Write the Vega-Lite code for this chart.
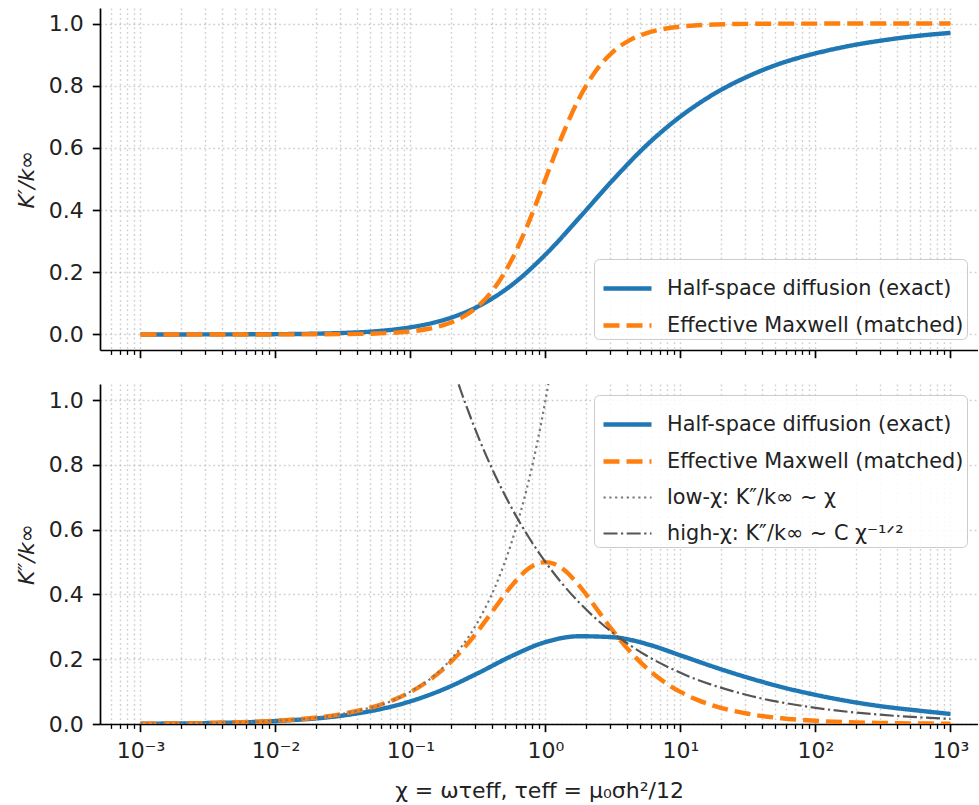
{
  "$schema": "https://vega.github.io/schema/vega-lite/v6.json",
  "background": "white",
  "padding": {"left": 15, "top": 8, "right": 0, "bottom": 0},
  "config": {
    "font": "DejaVu Sans",
    "view": {"stroke": null},
    "axis": {
      "labelFont": "DejaVu Sans", "labelFontSize": 22, "labelColor": "#222222",
      "titleFont": "DejaVu Sans", "titleFontSize": 22, "titleFontWeight": "normal", "titleColor": "#222222",
      "domainColor": "#000000", "domainWidth": 1.7, "tickColor": "#000000", "tickWidth": 1.7,
      "gridColor": "#b0b0b0", "gridOpacity": 0.6, "gridDash": [1.8, 2.9], "gridWidth": 1.4,
      "labelFlush": false, "labelOverlap": false, "labelBound": false
    },
    "legend": {
      "labelFont": "DejaVu Sans", "labelFontSize": 20.8, "labelColor": "#222222",
      "symbolType": "stroke", "symbolSize": 2304, "symbolStrokeWidth": 4.4, "labelOffset": 13, "rowPadding": -1,
      "padding": 3, "symbolOffset": 4, "fillColor": "rgba(255,255,255,0.85)", "strokeColor": "#cccccc",
      "cornerRadius": 5, "offset": 11, "labelLimit": 500
    }
  },
  "datasets": {
    "top": [
      {"s": "exact", "chi": 0.001, "v": 0.00003},
      {"s": "exact", "chi": 0.0031623, "v": 0.00016},
      {"s": "exact", "chi": 0.01, "v": 0.0009},
      {"s": "exact", "chi": 0.031623, "v": 0.0048},
      {"s": "exact", "chi": 0.056234, "v": 0.0105},
      {"s": "exact", "chi": 0.1, "v": 0.023},
      {"s": "exact", "chi": 0.17783, "v": 0.047},
      {"s": "exact", "chi": 0.31623, "v": 0.09},
      {"s": "exact", "chi": 0.56234, "v": 0.159},
      {"s": "exact", "chi": 1, "v": 0.257},
      {"s": "exact", "chi": 1.7783, "v": 0.375},
      {"s": "exact", "chi": 3.1623, "v": 0.497},
      {"s": "exact", "chi": 5.6234, "v": 0.609},
      {"s": "exact", "chi": 10, "v": 0.701},
      {"s": "exact", "chi": 17.783, "v": 0.774},
      {"s": "exact", "chi": 31.623, "v": 0.83},
      {"s": "exact", "chi": 56.234, "v": 0.873},
      {"s": "exact", "chi": 100, "v": 0.904},
      {"s": "exact", "chi": 177.83, "v": 0.928},
      {"s": "exact", "chi": 316.23, "v": 0.946},
      {"s": "exact", "chi": 562.34, "v": 0.96},
      {"s": "exact", "chi": 1000, "v": 0.97},
      {"s": "maxwell", "chi": 0.001, "v": 0.000001},
      {"s": "maxwell", "chi": 0.0031623, "v": 0.00001},
      {"s": "maxwell", "chi": 0.01, "v": 0.0001},
      {"s": "maxwell", "chi": 0.031623, "v": 0.001},
      {"s": "maxwell", "chi": 0.056234, "v": 0.00315},
      {"s": "maxwell", "chi": 0.074989, "v": 0.00559},
      {"s": "maxwell", "chi": 0.1, "v": 0.0099},
      {"s": "maxwell", "chi": 0.13335, "v": 0.01747},
      {"s": "maxwell", "chi": 0.17783, "v": 0.03065},
      {"s": "maxwell", "chi": 0.23714, "v": 0.05324},
      {"s": "maxwell", "chi": 0.31623, "v": 0.09091},
      {"s": "maxwell", "chi": 0.4217, "v": 0.15098},
      {"s": "maxwell", "chi": 0.56234, "v": 0.24025},
      {"s": "maxwell", "chi": 0.74989, "v": 0.35993},
      {"s": "maxwell", "chi": 0.86596, "v": 0.42853},
      {"s": "maxwell", "chi": 1, "v": 0.5},
      {"s": "maxwell", "chi": 1.15478, "v": 0.57147},
      {"s": "maxwell", "chi": 1.3335, "v": 0.64008},
      {"s": "maxwell", "chi": 1.7783, "v": 0.75975},
      {"s": "maxwell", "chi": 2.3714, "v": 0.84902},
      {"s": "maxwell", "chi": 3.1623, "v": 0.90909},
      {"s": "maxwell", "chi": 4.217, "v": 0.94676},
      {"s": "maxwell", "chi": 5.6234, "v": 0.96935},
      {"s": "maxwell", "chi": 7.4989, "v": 0.98253},
      {"s": "maxwell", "chi": 10, "v": 0.9901},
      {"s": "maxwell", "chi": 13.335, "v": 0.99441},
      {"s": "maxwell", "chi": 17.783, "v": 0.99685},
      {"s": "maxwell", "chi": 31.623, "v": 0.999},
      {"s": "maxwell", "chi": 56.234, "v": 0.99968},
      {"s": "maxwell", "chi": 100, "v": 0.9999},
      {"s": "maxwell", "chi": 316.23, "v": 0.99999},
      {"s": "maxwell", "chi": 1000, "v": 1.0}
    ],
    "bottom": [
      {"s": "exact", "chi": 0.001, "v": 0.00097},
      {"s": "exact", "chi": 0.0031623, "v": 0.00299},
      {"s": "exact", "chi": 0.01, "v": 0.00905},
      {"s": "exact", "chi": 0.031623, "v": 0.0263},
      {"s": "exact", "chi": 0.056234, "v": 0.0435},
      {"s": "exact", "chi": 0.1, "v": 0.0701},
      {"s": "exact", "chi": 0.17783, "v": 0.108},
      {"s": "exact", "chi": 0.31623, "v": 0.157},
      {"s": "exact", "chi": 0.56234, "v": 0.21},
      {"s": "exact", "chi": 1, "v": 0.253},
      {"s": "exact", "chi": 1.7783, "v": 0.271},
      {"s": "exact", "chi": 3.1623, "v": 0.268},
      {"s": "exact", "chi": 5.6234, "v": 0.247},
      {"s": "exact", "chi": 10, "v": 0.212},
      {"s": "exact", "chi": 17.783, "v": 0.176},
      {"s": "exact", "chi": 31.623, "v": 0.143},
      {"s": "exact", "chi": 56.234, "v": 0.114},
      {"s": "exact", "chi": 100, "v": 0.09},
      {"s": "exact", "chi": 177.83, "v": 0.07},
      {"s": "exact", "chi": 316.23, "v": 0.054},
      {"s": "exact", "chi": 562.34, "v": 0.042},
      {"s": "exact", "chi": 1000, "v": 0.031},
      {"s": "maxwell", "chi": 0.001, "v": 0.001},
      {"s": "maxwell", "chi": 0.0031623, "v": 0.0031623},
      {"s": "maxwell", "chi": 0.01, "v": 0.009999},
      {"s": "maxwell", "chi": 0.031623, "v": 0.03159},
      {"s": "maxwell", "chi": 0.056234, "v": 0.05605},
      {"s": "maxwell", "chi": 0.074989, "v": 0.07457},
      {"s": "maxwell", "chi": 0.1, "v": 0.09901},
      {"s": "maxwell", "chi": 0.13335, "v": 0.13102},
      {"s": "maxwell", "chi": 0.17783, "v": 0.17238},
      {"s": "maxwell", "chi": 0.23714, "v": 0.22451},
      {"s": "maxwell", "chi": 0.31623, "v": 0.28748},
      {"s": "maxwell", "chi": 0.4217, "v": 0.35803},
      {"s": "maxwell", "chi": 0.56234, "v": 0.42724},
      {"s": "maxwell", "chi": 0.74989, "v": 0.47998},
      {"s": "maxwell", "chi": 0.86596, "v": 0.49486},
      {"s": "maxwell", "chi": 1, "v": 0.5},
      {"s": "maxwell", "chi": 1.15478, "v": 0.49486},
      {"s": "maxwell", "chi": 1.3335, "v": 0.47998},
      {"s": "maxwell", "chi": 1.7783, "v": 0.42724},
      {"s": "maxwell", "chi": 2.3714, "v": 0.35803},
      {"s": "maxwell", "chi": 3.1623, "v": 0.28748},
      {"s": "maxwell", "chi": 4.217, "v": 0.22451},
      {"s": "maxwell", "chi": 5.6234, "v": 0.17238},
      {"s": "maxwell", "chi": 7.4989, "v": 0.13102},
      {"s": "maxwell", "chi": 10, "v": 0.09901},
      {"s": "maxwell", "chi": 13.335, "v": 0.07457},
      {"s": "maxwell", "chi": 17.783, "v": 0.05605},
      {"s": "maxwell", "chi": 31.623, "v": 0.03159},
      {"s": "maxwell", "chi": 56.234, "v": 0.01778},
      {"s": "maxwell", "chi": 100, "v": 0.009999},
      {"s": "maxwell", "chi": 316.23, "v": 0.0031623},
      {"s": "maxwell", "chi": 1000, "v": 0.001},
      {"s": "low", "chi": 0.001, "v": 0.001},
      {"s": "low", "chi": 0.0031623, "v": 0.0031623},
      {"s": "low", "chi": 0.01, "v": 0.01},
      {"s": "low", "chi": 0.031623, "v": 0.031623},
      {"s": "low", "chi": 0.1, "v": 0.1},
      {"s": "low", "chi": 0.17783, "v": 0.17783},
      {"s": "low", "chi": 0.31623, "v": 0.31623},
      {"s": "low", "chi": 0.4217, "v": 0.4217},
      {"s": "low", "chi": 0.56234, "v": 0.56234},
      {"s": "low", "chi": 0.74989, "v": 0.74989},
      {"s": "low", "chi": 0.86596, "v": 0.86596},
      {"s": "low", "chi": 1, "v": 1},
      {"s": "low", "chi": 1.122, "v": 1.122},
      {"s": "low", "chi": 1.2589, "v": 1.2589},
      {"s": "high", "chi": 0.17783, "v": 1.1857},
      {"s": "high", "chi": 0.23714, "v": 1.0268},
      {"s": "high", "chi": 0.31623, "v": 0.8891},
      {"s": "high", "chi": 0.4217, "v": 0.77},
      {"s": "high", "chi": 0.56234, "v": 0.6668},
      {"s": "high", "chi": 0.74989, "v": 0.5774},
      {"s": "high", "chi": 1, "v": 0.5},
      {"s": "high", "chi": 1.3335, "v": 0.433},
      {"s": "high", "chi": 1.7783, "v": 0.375},
      {"s": "high", "chi": 2.3714, "v": 0.3247},
      {"s": "high", "chi": 3.1623, "v": 0.2812},
      {"s": "high", "chi": 4.217, "v": 0.2435},
      {"s": "high", "chi": 5.6234, "v": 0.2108},
      {"s": "high", "chi": 10, "v": 0.1581},
      {"s": "high", "chi": 31.623, "v": 0.0889},
      {"s": "high", "chi": 100, "v": 0.05},
      {"s": "high", "chi": 316.23, "v": 0.0281},
      {"s": "high", "chi": 1000, "v": 0.0158}
    ]
  },
  "spacing": 25,
  "resolve": {"scale": {"y": "independent", "color": "independent", "strokeDash": "independent", "strokeWidth": "independent"}},
  "vconcat": [
    {
      "width": 878,
      "height": 342,
      "layer": [
        {
          "mark": {"type": "rule", "color": "#8c8c8c", "strokeWidth": 1.4},
          "encoding": {"y": {"datum": 1}}
        },
        {
          "data": {"name": "top"},
          "mark": {"type": "line", "clip": true, "interpolate": "monotone"},
          "encoding": {
            "x": {
              "field": "chi", "type": "quantitative",
              "scale": {"type": "log", "domain": [0.00050119, 1600], "nice": false},
              "axis": {
                "title": null, "labels": false, "grid": true,
                "values": [0.0006,0.0007,0.0008,0.0009,0.001,0.002,0.003,0.004,0.005,0.006,0.007,0.008,0.009,0.01,0.02,0.03,0.04,0.05,0.06,0.07,0.08,0.09,0.1,0.2,0.3,0.4,0.5,0.6,0.7,0.8,0.9,1,2,3,4,5,6,7,8,9,10,20,30,40,50,60,70,80,90,100,200,300,400,500,600,700,800,900,1000],
                "tickSize": {"condition": {"test": "abs(log(datum.value)/LN10 - round(log(datum.value)/LN10)) < 0.001", "value": 7.7}, "value": 4.4},
                "tickWidth": {"condition": {"test": "abs(log(datum.value)/LN10 - round(log(datum.value)/LN10)) < 0.001", "value": 1.7}, "value": 1.3}
              }
            },
            "y": {
              "field": "v", "type": "quantitative",
              "scale": {"domain": [-0.05, 1.05], "nice": false, "zero": false},
              "axis": {"values": [0, 0.2, 0.4, 0.6, 0.8, 1.0], "format": ".1f", "title": "K′/k∞", "titleFontStyle": "italic", "tickSize": 7.7, "labelPadding": 9, "titlePadding": 10, "grid": true}
            },
            "color": {
              "field": "s", "type": "nominal",
              "scale": {"domain": ["exact", "maxwell"], "range": ["#1f77b4", "#ff7f0e"]},
              "legend": {"title": null, "orient": "bottom-right", "labelExpr": "datum.label == 'exact' ? 'Half-space diffusion (exact)' : 'Effective Maxwell (matched)'"}
            },
            "strokeDash": {
              "field": "s", "type": "nominal",
              "scale": {"domain": ["exact", "maxwell"], "range": [[1, 0], [16, 7]]},
              "legend": {"title": null, "orient": "bottom-right", "labelExpr": "datum.label == 'exact' ? 'Half-space diffusion (exact)' : 'Effective Maxwell (matched)'"}
            },
            "strokeWidth": {
              "field": "s", "type": "nominal",
              "scale": {"type": "ordinal", "domain": ["exact", "maxwell"], "range": [4.4, 4.4]},
              "legend": null
            }
          }
        },
        {
          "mark": {"type": "rule", "color": "#000000", "strokeWidth": 1.7},
          "encoding": {"y": {"datum": 1.05}}
        }
      ]
    },
    {
      "width": 878,
      "height": 340,
      "layer": [
        {
          "data": {"name": "bottom"},
          "mark": {"type": "line", "clip": true, "interpolate": "monotone"},
          "encoding": {
            "x": {
              "field": "chi", "type": "quantitative",
              "scale": {"type": "log", "domain": [0.00050119, 1600], "nice": false},
              "axis": {
                "title": "χ = ωτeff,  τeff = μ₀σh²/12", "titlePadding": 19, "labelPadding": 9, "grid": true,
                "values": [0.0006,0.0007,0.0008,0.0009,0.001,0.002,0.003,0.004,0.005,0.006,0.007,0.008,0.009,0.01,0.02,0.03,0.04,0.05,0.06,0.07,0.08,0.09,0.1,0.2,0.3,0.4,0.5,0.6,0.7,0.8,0.9,1,2,3,4,5,6,7,8,9,10,20,30,40,50,60,70,80,90,100,200,300,400,500,600,700,800,900,1000],
                "labelExpr": "abs(log(datum.value)/LN10 - round(log(datum.value)/LN10)) < 0.001 ? '10' + replace(replace(replace(replace(replace('' + round(log(datum.value)/LN10), '-', '⁻'), '0', '⁰'), '1', '¹'), '2', '²'), '3', '³') : ''",
                "tickSize": {"condition": {"test": "abs(log(datum.value)/LN10 - round(log(datum.value)/LN10)) < 0.001", "value": 7.7}, "value": 4.4},
                "tickWidth": {"condition": {"test": "abs(log(datum.value)/LN10 - round(log(datum.value)/LN10)) < 0.001", "value": 1.7}, "value": 1.3}
              }
            },
            "y": {
              "field": "v", "type": "quantitative",
              "scale": {"domain": [0, 1.05], "nice": false, "zero": false},
              "axis": {"values": [0, 0.2, 0.4, 0.6, 0.8, 1.0], "format": ".1f", "title": "K″/k∞", "titleFontStyle": "italic", "tickSize": 7.7, "labelPadding": 9, "titlePadding": 10, "grid": true}
            },
            "color": {
              "field": "s", "type": "nominal",
              "scale": {"domain": ["exact", "maxwell", "low", "high"], "range": ["#1f77b4", "#ff7f0e", "#777777", "#555555"]},
              "legend": {"title": null, "orient": "top-right", "labelExpr": "datum.label == 'exact' ? 'Half-space diffusion (exact)' : datum.label == 'maxwell' ? 'Effective Maxwell (matched)' : datum.label == 'low' ? 'low-χ: K″/k∞ ∼ χ' : 'high-χ: K″/k∞ ∼ C χ⁻¹ᐟ²'"}
            },
            "strokeDash": {
              "field": "s", "type": "nominal",
              "scale": {"domain": ["exact", "maxwell", "low", "high"], "range": [[1, 0], [16, 7], [2.2, 3.6], [14, 3.5, 2.2, 3.5]]},
              "legend": {"title": null, "orient": "top-right", "labelExpr": "datum.label == 'exact' ? 'Half-space diffusion (exact)' : datum.label == 'maxwell' ? 'Effective Maxwell (matched)' : datum.label == 'low' ? 'low-χ: K″/k∞ ∼ χ' : 'high-χ: K″/k∞ ∼ C χ⁻¹ᐟ²'"}
            },
            "strokeWidth": {
              "field": "s", "type": "nominal",
              "scale": {"type": "ordinal", "domain": ["exact", "maxwell", "low", "high"], "range": [4.4, 4.4, 2.2, 2.2]},
              "legend": {"title": null, "orient": "top-right", "labelExpr": "datum.label == 'exact' ? 'Half-space diffusion (exact)' : datum.label == 'maxwell' ? 'Effective Maxwell (matched)' : datum.label == 'low' ? 'low-χ: K″/k∞ ∼ χ' : 'high-χ: K″/k∞ ∼ C χ⁻¹ᐟ²'"}
            }
          }
        },
        {
          "mark": {"type": "rule", "color": "#000000", "strokeWidth": 1.7},
          "encoding": {"y": {"datum": 1.05}}
        }
      ]
    }
  ]
}
